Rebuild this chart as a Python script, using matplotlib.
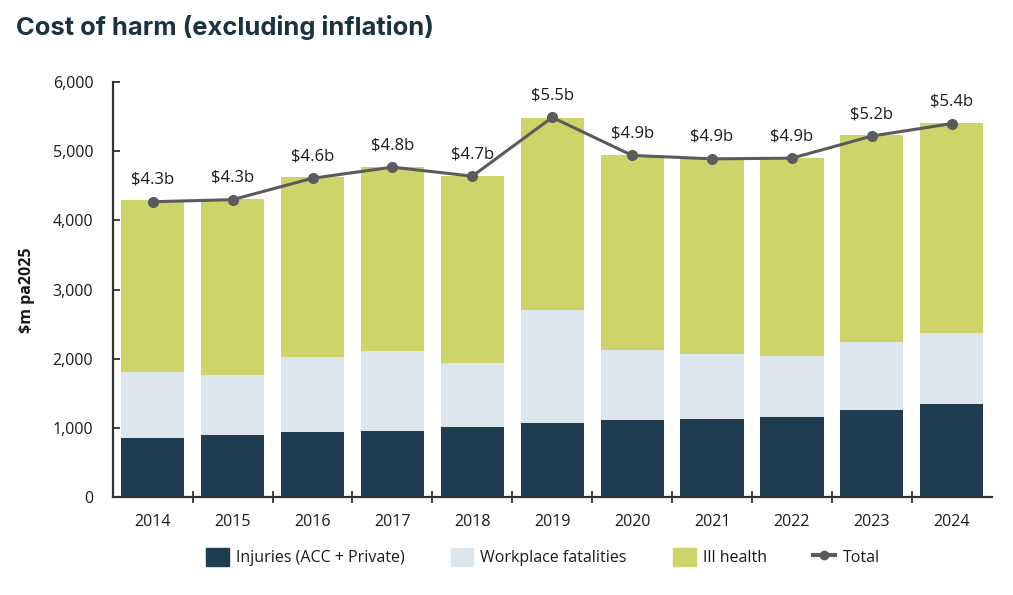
import matplotlib
matplotlib.use("Agg")
import matplotlib.pyplot as plt
from matplotlib.patches import Patch
from matplotlib.lines import Line2D
from matplotlib.ticker import FuncFormatter, FixedLocator
import numpy as np

years = ["2014", "2015", "2016", "2017", "2018", "2019", "2020", "2021", "2022", "2023", "2024"]
injuries = [850, 894, 937, 952, 1010, 1072, 1111, 1121, 1159, 1261, 1338]
fatalities = [962, 874, 1092, 1159, 922, 1628, 1019, 942, 875, 985, 1034]
ill_health = [2478, 2541, 2594, 2662, 2715, 2788, 2817, 2826, 2874, 2991, 3034]
total = [4270, 4300, 4610, 4770, 4640, 5490, 4940, 4890, 4900, 5220, 5400]
total_labels = ["$4.3b", "$4.3b", "$4.6b", "$4.8b", "$4.7b", "$5.5b", "$4.9b", "$4.9b", "$4.9b", "$5.2b", "$5.4b"]

C_INJ = "#1e3d51"
C_FAT = "#dce6ec"
C_ILL = "#cdd56a"
C_LINE = "#5b5b5d"
C_TXT = "#1a1a1a"

FONT = "Open Sans"
plt.rcParams["font.family"] = [FONT, "DejaVu Sans"]

fig = plt.figure(figsize=(10.13, 5.95), dpi=100)
ax = fig.add_axes([0.1113, 0.1647, 0.979 - 0.1113, 0.862 - 0.1647])

x = np.arange(len(years))
w = 0.79
inj = np.array(injuries)
fat = np.array(fatalities)
ill = np.array(ill_health)
ax.bar(x, inj, w, color=C_INJ, zorder=2)
ax.bar(x, fat, w, bottom=inj, color=C_FAT, zorder=2)
ax.bar(x, ill, w, bottom=inj + fat, color=C_ILL, zorder=2)
ax.plot(x, total, color=C_LINE, lw=2.2, marker="o", ms=7, zorder=3)
for xi, t, lab in zip(x, total, total_labels):
    ax.annotate(lab, (xi, t), xytext=(0, 10), textcoords="offset points",
                ha="center", va="bottom", fontsize=12, color=C_TXT)

ax.set_xlim(-0.5, len(years) - 0.5)
ax.set_ylim(0, 6000)
ax.set_yticks(np.arange(0, 6001, 1000))
ax.yaxis.set_major_formatter(FuncFormatter(lambda v, p: f"{int(v):,}"))
ax.set_xticks(x)
ax.set_xticklabels(years)
ax.xaxis.set_minor_locator(FixedLocator(np.arange(0.5, len(years) - 0.5, 1)))
ax.tick_params(axis="x", which="major", length=0, pad=12, labelsize=11.5, labelcolor=C_TXT)
ax.tick_params(axis="x", which="minor", length=8, width=1.3, direction="inout", color="#333333")
ax.tick_params(axis="y", which="major", length=5, width=1.3, direction="in", pad=14,
               labelsize=11.5, labelcolor=C_TXT, color="#333333")
for s in ["top", "right"]:
    ax.spines[s].set_visible(False)
for s in ["left", "bottom"]:
    ax.spines[s].set_linewidth(1.6)
    ax.spines[s].set_color("#333333")

fig.text(27 / 1013, 1 - 290 / 595, "$m pa2025", rotation=90, ha="center", va="center",
         fontsize=11.5, fontweight="bold", color=C_TXT)
fig.text(16 / 1013, 1 - 27 / 595, "Cost of harm (excluding inflation)",
         ha="left", va="center", fontsize=18.4, fontweight="bold", color="#1b3340",
         family=["Inter", "DejaVu Sans"])

handles = [Patch(color=C_INJ), Patch(color=C_FAT), Patch(color=C_ILL),
           Line2D([], [], color=C_LINE, lw=3, marker="o", ms=6)]
labels = ["Injuries (ACC + Private)", "Workplace fatalities", "Ill health", "Total"]
fig.legend(handles, labels, loc="center", bbox_to_anchor=(0.536, 1 - 557 / 595), ncol=4,
           frameon=False, fontsize=11.5, handlelength=1.4, handleheight=1.4, handletextpad=0.45,
           columnspacing=2.9, labelcolor=C_TXT)

fig.savefig("out.png", dpi=100)
